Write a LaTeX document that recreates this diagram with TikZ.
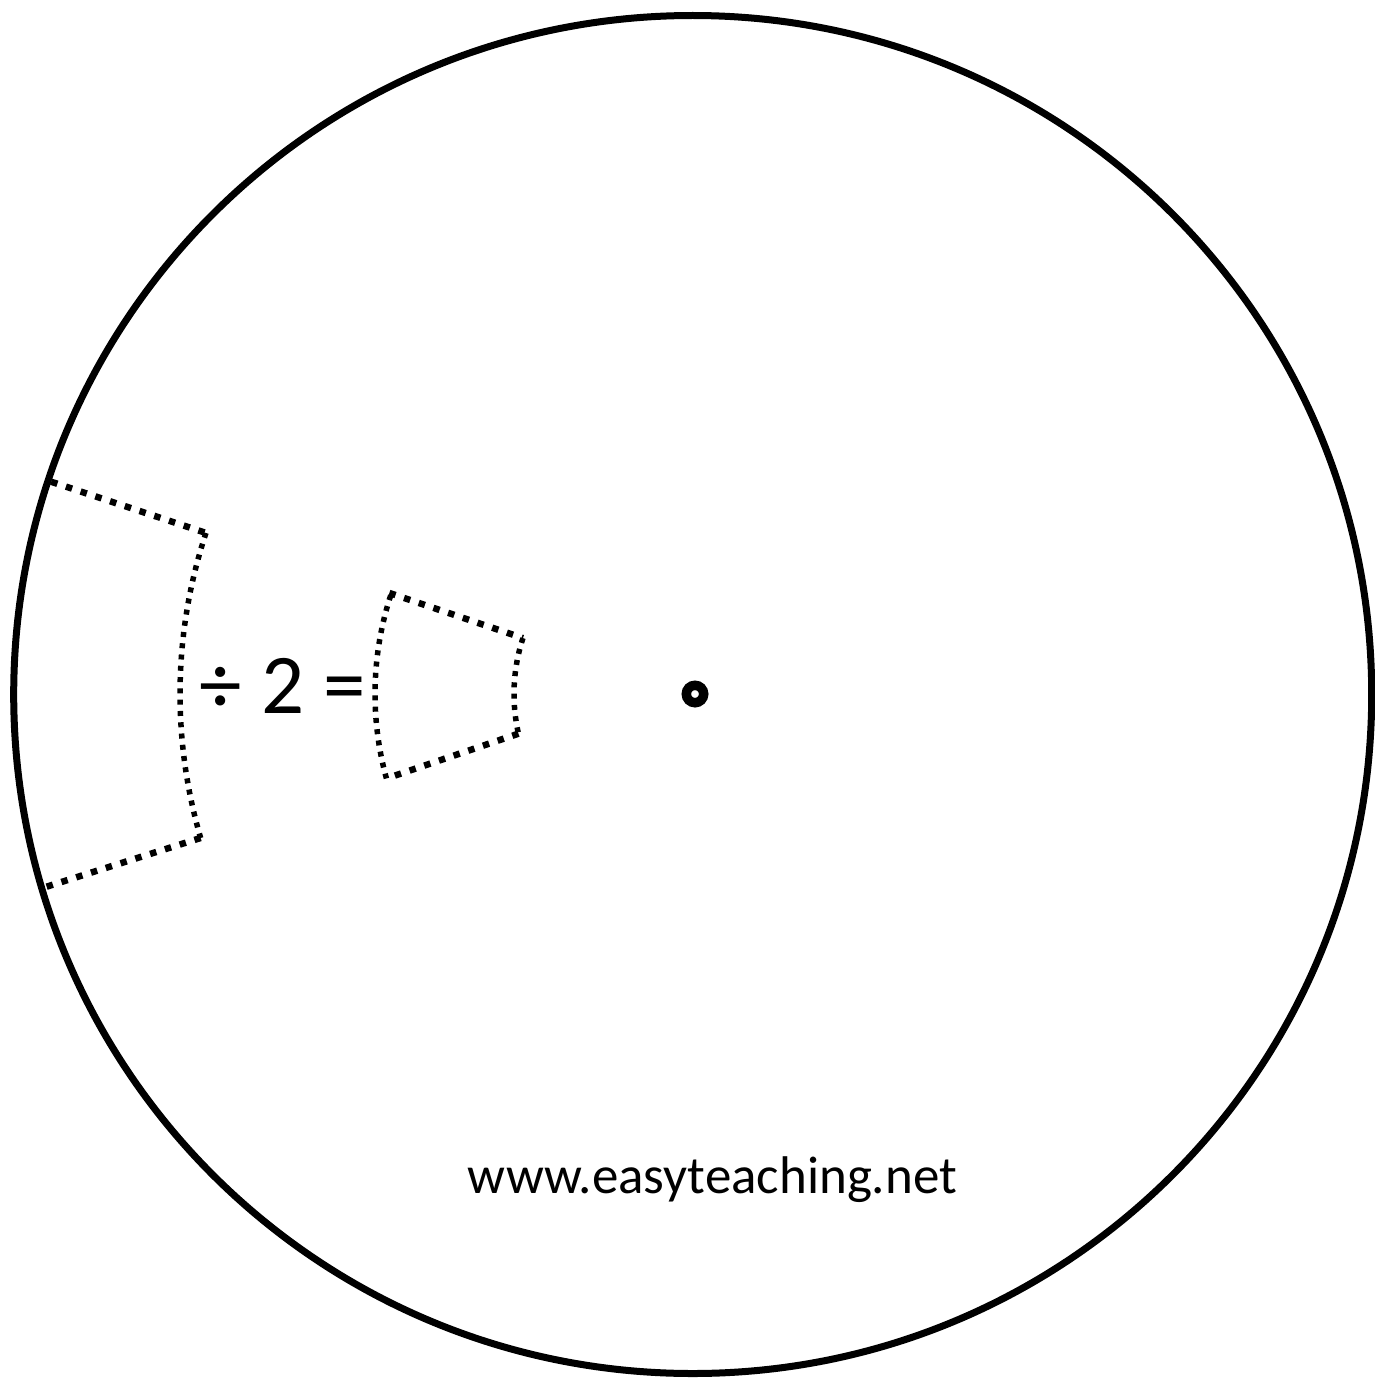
\documentclass[tikz,border=0pt]{standalone}
\usepackage{fontspec}
\setmainfont{Carlito}
\begin{document}
\begin{tikzpicture}[x=1pt,y=-1pt,
  rimline/.style={circle, draw, line width=7pt, inner sep=0pt},
  pivotring/.style={circle, draw, line width=9.5pt, inner sep=0pt},
  straightdots/.style={line width=6.5pt, dash pattern=on 6.5pt off 9pt},
  arcdots/.style={line width=5.5pt, dash pattern=on 5pt off 6.3pt},
  eqtext/.style={font=\fontsize{85}{100}\selectfont, anchor=base, inner sep=0pt},
  urltext/.style={font=\fontsize{53}{64}\selectfont, anchor=base, inner sep=0pt}]
\useasboundingbox (0,0) rectangle (1375,1378);
\node[rimline, minimum size=1358pt] (disc) at (692.7,694.5) {};
\node[pivotring, minimum size=17.4pt] (pivot) at (695,694) {};
\begin{scope}[shift={(693,694)}]
  % large window
  \coordinate (btl) at (198.3:676);
  \coordinate (btr) at (198.3:513);
  \coordinate (bbr) at (163.7:513);
  \coordinate (bbl) at (163.4:675);
  \draw[straightdots] (btl) -- (btr);
  \draw[arcdots] (btr) arc[start angle=198.3, end angle=163.7, radius=513];
  \draw[straightdots] (bbr) -- (bbl);
  % small window
  \coordinate (stl) at (198.4:320);
  \coordinate (str) at (198.2:179);
  \coordinate (sbr) at (167.2:179);
  \coordinate (sbl) at (164.6:318);
  \draw[straightdots] (stl) -- (str);
  \draw[arcdots] (str) arc[start angle=198.2, end angle=167.2, radius=179];
  \draw[straightdots] (sbr) -- (sbl);
  \draw[arcdots] (sbl) arc[start angle=164.6, end angle=198.4, radius=318];
\end{scope}
\node[eqtext] (eq) at (283,713) {÷ 2 =};
\node[urltext] (url) at (712.5,1193) {www.easyteaching.net};
\end{tikzpicture}
\end{document}
